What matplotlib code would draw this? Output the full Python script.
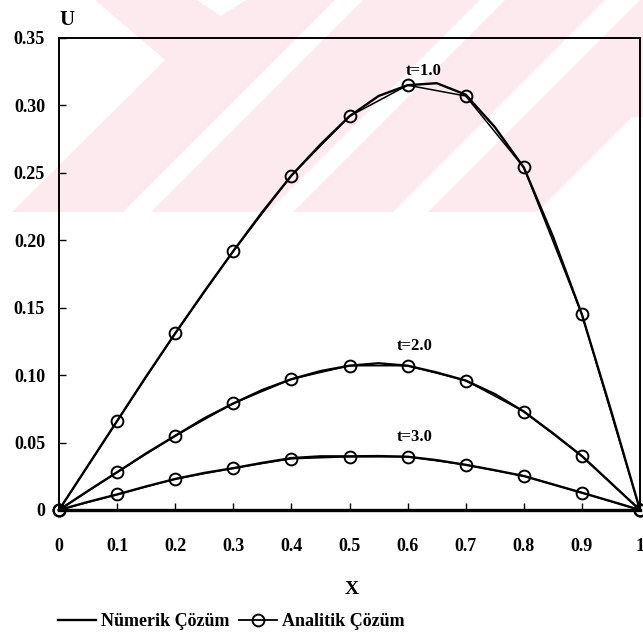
import numpy as np
import matplotlib
matplotlib.use("Agg")
import matplotlib.pyplot as plt
from matplotlib.patches import Polygon, Rectangle

plt.rcParams['font.family'] = ['Liberation Serif', 'DejaVu Serif']
plt.rcParams['font.weight'] = 'bold'

# analytic solution at the grid nodes
x_analitik = [0.0, 0.1, 0.2, 0.3, 0.4, 0.5, 0.6, 0.7, 0.8, 0.9, 1.0]
analitik_t1 = [0, 0.066, 0.131, 0.192, 0.248, 0.292, 0.315, 0.307, 0.254, 0.145, 0]
analitik_t2 = [0, 0.028, 0.055, 0.079, 0.097, 0.107, 0.107, 0.096, 0.073, 0.040, 0]
analitik_t3 = [0, 0.0115, 0.023, 0.031, 0.038, 0.0395, 0.0395, 0.0335, 0.0252, 0.0128, 0]

# numerical solution (finer grid)
x_numerik = [0.0, 0.05, 0.1, 0.15, 0.2, 0.25, 0.3, 0.35, 0.4, 0.45, 0.5,
             0.55, 0.6, 0.65, 0.7, 0.75, 0.8, 0.85, 0.9, 0.95, 1.0]
numerik_t1 = [0, 0.033, 0.066, 0.099, 0.131, 0.162, 0.192, 0.221, 0.248, 0.271, 0.292,
              0.307, 0.315, 0.3165, 0.308, 0.284, 0.254, 0.203, 0.145, 0.074, 0]
numerik_t2 = [0, 0.0142, 0.028, 0.042, 0.055, 0.068, 0.079, 0.089, 0.097, 0.103, 0.107,
              0.1088, 0.107, 0.102, 0.096, 0.086, 0.073, 0.057, 0.040, 0.020, 0]
numerik_t3 = [0, 0.006, 0.0115, 0.0175, 0.023, 0.0275, 0.031, 0.035, 0.0385, 0.0398, 0.0398,
              0.040, 0.0395, 0.037, 0.0335, 0.0295, 0.0252, 0.019, 0.0128, 0.0065, 0]

curve_labels = ['t=1.0', 't=2.0', 't=3.0']
label_x = [0.627, 0.613, 0.613]
label_y = [0.3255, 0.1216, 0.054]

x_ticks = [0, 0.1, 0.2, 0.3, 0.4, 0.5, 0.6, 0.7, 0.8, 0.9, 1.0]
x_tick_labels = ['0', '0.1', '0.2', '0.3', '0.4', '0.5', '0.6', '0.7', '0.8', '0.9', '1']
y_ticks = [0, 0.05, 0.10, 0.15, 0.20, 0.25, 0.30, 0.35]
y_tick_labels = ['0', '0.05', '0.10', '0.15', '0.20', '0.25', '0.30', '0.35']

W, H = 643.0, 641.0
fig = plt.figure(figsize=(W / 100, H / 100), dpi=100)


def to_fig(pts):
    return [(a / W, 1 - b / H) for a, b in pts]


# pink logo band behind the plot
pink = '#fdeaee'
band = Rectangle((0, 1 - 212 / H), 1, 212 / H, transform=fig.transFigure,
                 fc=pink, ec='none', zorder=-2)
fig.add_artist(band)
white_shapes = [
    [(0, 0), (95, 0), (165, 60), (12, 212), (0, 212)],
    [(197, 0), (246, 0), (221, 16)],
    [(335, 0), (363, 0), (151, 212), (123, 212)],
    [(480, 0), (505, 0), (293, 212), (268, 212)],
    [(605, 0), (640, 0), (428, 212), (393, 212)],
    [(632, 117), (643, 117), (643, 212), (537, 212)],
]
for pts in white_shapes:
    p = Polygon(to_fig(pts), closed=True, transform=fig.transFigure,
                fc='white', ec='none', zorder=-1)
    p.set_clip_path(band)
    fig.add_artist(p)

ax = fig.add_axes([59 / W, 1 - 510 / H, 581 / W, 472 / H])
ax.patch.set_visible(False)

for yn, ya in zip([numerik_t1, numerik_t2, numerik_t3],
                  [analitik_t1, analitik_t2, analitik_t3]):
    ax.plot(x_numerik, yn, color='black', lw=1.7, clip_on=False)
    ax.plot(x_analitik, ya, color='black', lw=1.1, marker='o', ms=8.5,
            mfc='none', mec='black', mew=1.4, clip_on=False)

for lab, lx, ly in zip(curve_labels, label_x, label_y):
    ax.text(lx, ly, lab, ha='center', va='center', fontsize=12, fontweight='bold')

ax.set_xlim(0, 1)
ax.set_ylim(0, 0.35)
ax.set_xticks(x_ticks)
ax.set_xticklabels(x_tick_labels, fontsize=13, fontweight='bold')
ax.set_yticks(y_ticks)
ax.set_yticklabels(y_tick_labels, fontsize=13, fontweight='bold')
ax.tick_params(axis='x', direction='in', length=5, width=1, pad=20)
ax.tick_params(axis='y', direction='in', length=5, width=1, pad=10)
for s in ['left', 'top', 'right']:
    ax.spines[s].set_linewidth(1.4)
ax.spines['bottom'].set_linewidth(2.4)

fig.text(67 / W, 1 - 20 / H, 'U', ha='center', va='center', fontsize=15, fontweight='bold')
fig.text(352 / W, 1 - 590 / H, 'X', ha='center', va='center', fontsize=14, fontweight='bold')

h_num, = ax.plot([], [], color='black', lw=1.7)
h_an, = ax.plot([], [], color='black', lw=1.3, marker='o', ms=8.5, mfc='none', mew=1.4)
fig.legend([h_num, h_an], ['Nümerik Çözüm', 'Analitik Çözüm'],
           loc='center left', bbox_to_anchor=(58 / W, 1 - 622 / H), ncol=2,
           frameon=False, handlelength=2.1, handletextpad=0.28, columnspacing=0.55,
           borderaxespad=0, borderpad=0, prop={'weight': 'bold', 'size': 13})

fig.savefig('out.png', dpi=100)
